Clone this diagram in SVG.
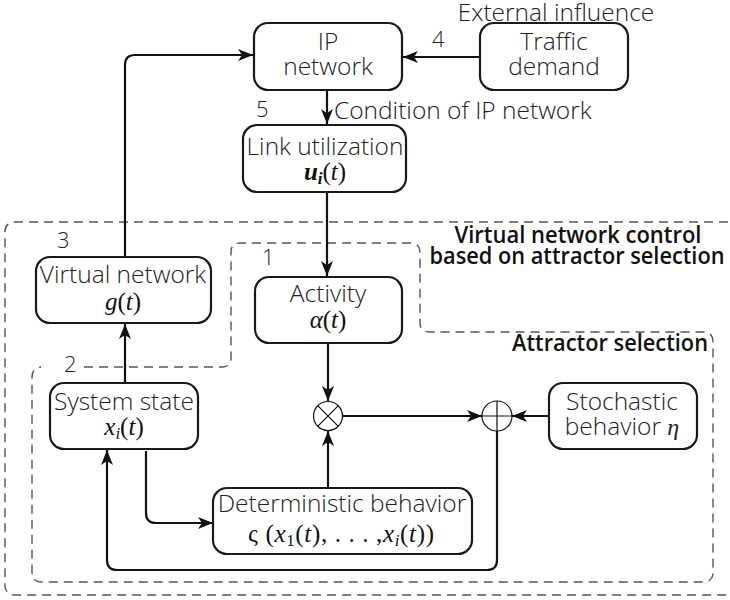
<svg xmlns="http://www.w3.org/2000/svg" width="730" height="600" viewBox="0 0 730 600">
<defs>
<marker id="ah" markerUnits="userSpaceOnUse" markerWidth="16" markerHeight="12" refX="15" refY="6" orient="auto">
<path d="M0,0 L15,6 L0,12 L4,6 z" fill="#111"/>
</marker>
<style>
.box{fill:#fff;stroke:#1a1a1a;stroke-width:2.2}
.lbl{font-family:"Open Sans","DejaVu Sans",sans-serif;font-weight:300;font-size:24.5px;fill:#222;text-anchor:middle}
.num{font-family:"Open Sans","DejaVu Sans",sans-serif;font-weight:300;font-size:22px;fill:#222}
.math{font-family:"Liberation Serif","Times New Roman",serif;font-size:25px;fill:#111;text-anchor:middle}
.it{font-style:italic}
.bold{font-family:"Open Sans","DejaVu Sans",sans-serif;font-weight:600;font-size:23.5px;fill:#111}
.dash{fill:none;stroke:#555;stroke-width:1.4;stroke-dasharray:9,6}
.con{fill:none;stroke:#111;stroke-width:2.2}
.op{fill:#fff;stroke:#111;stroke-width:1.2}
</style>
</defs>
<g id="regions">
<rect class="dash" x="5" y="222" width="745" height="373" rx="9"/>
<path class="dash" d="M84,367 H222 Q231,367 231,358 V252 Q231,243 240,243 H410 Q420,243 420,253 V323 Q420,332 430,332 H703 Q713,332 713,342 V572 Q713,582 703,582 H42 Q32,582 32,572 V377 Q32,368 41,367"/>
<text class="bold" x="578" y="243" text-anchor="middle" textLength="247" lengthAdjust="spacingAndGlyphs">Virtual network control</text>
<text class="bold" x="577" y="264" text-anchor="middle" textLength="295" lengthAdjust="spacingAndGlyphs">based on attractor selection</text>
<text class="bold" x="708" y="351" text-anchor="end" textLength="196" lengthAdjust="spacingAndGlyphs">Attractor selection</text>
</g>
<g id="connectors">
<path class="con" marker-end="url(#ah)" d="M125,256 V65 Q125,55 135,55 H253"/>
<path class="con" marker-end="url(#ah)" d="M480,57 H403"/>
<path class="con" marker-end="url(#ah)" d="M327,90 V124"/>
<path class="con" marker-end="url(#ah)" d="M327,192 V276"/>
<path class="con" marker-end="url(#ah)" d="M328,343 V401"/>
<path class="con" marker-end="url(#ah)" d="M342,416 H482"/>
<path class="con" marker-end="url(#ah)" d="M549,416 H512"/>
<path class="con" marker-end="url(#ah)" d="M328,488 V431"/>
<path class="con" marker-end="url(#ah)" d="M125,383 V324"/>
<path class="con" marker-end="url(#ah)" d="M146,451 V513 Q146,523 156,523 H213"/>
<path class="con" marker-end="url(#ah)" d="M497,431 V560 Q497,570 487,570 H117 Q107,570 107,560 V450"/>
</g>
<g id="ip-network">
<rect class="box" x="254" y="23" width="148" height="67" rx="14"/>
<text class="lbl" x="328" y="50">IP</text>
<text class="lbl" x="328" y="75">network</text>
</g>
<g id="traffic-demand">
<rect class="box" x="480" y="23" width="148" height="67" rx="14"/>
<text class="lbl" x="554" y="50">Traffic</text>
<text class="lbl" x="554" y="75">demand</text>
<text class="lbl" x="556" y="21">External influence</text>
<text class="num" x="432" y="47">4</text>
</g>
<g id="link-utilization">
<rect class="box" x="243" y="125" width="163" height="67" rx="14"/>
<text class="lbl" x="325" y="155">Link utilization</text>
<text class="math" x="325" y="180"><tspan class="it" font-weight="bold">u</tspan><tspan class="it" font-size="17" dy="4" font-weight="bold">i</tspan><tspan dy="-4">(</tspan><tspan class="it">t</tspan>)</text>
<text class="num" x="256" y="117">5</text>
<text class="lbl" x="334" y="119" style="text-anchor:start">Condition of IP network</text>
</g>
<g id="virtual-network">
<rect class="box" x="36" y="257" width="175" height="66" rx="14"/>
<text class="lbl" x="123" y="283">Virtual network</text>
<text class="math" x="123" y="310"><tspan class="it">g</tspan>(<tspan class="it">t</tspan>)</text>
<text class="num" x="57" y="248">3</text>
</g>
<g id="activity">
<rect class="box" x="255" y="277" width="147" height="66" rx="14"/>
<text class="lbl" x="328" y="302">Activity</text>
<text class="math" x="328" y="328"><tspan class="it">α</tspan>(<tspan class="it">t</tspan>)</text>
<text class="num" x="262" y="265">1</text>
</g>
<g id="system-state">
<rect class="box" x="50" y="383" width="148" height="66" rx="14"/>
<text class="lbl" x="124" y="410">System state</text>
<text class="math" x="124" y="435"><tspan class="it">x</tspan><tspan class="it" font-size="17" dy="4">i</tspan><tspan dy="-4">(</tspan><tspan class="it">t</tspan>)</text>
<text class="num" x="64" y="372">2</text>
</g>
<g id="deterministic-behavior">
<rect class="box" x="213" y="488" width="259" height="66" rx="14"/>
<text class="lbl" x="342" y="512">Deterministic behavior</text>
<text class="math" x="341" y="542" textLength="186" lengthAdjust="spacing">ς (<tspan class="it">x</tspan><tspan font-size="17" dy="4">1</tspan><tspan dy="-4">(</tspan><tspan class="it">t</tspan>), . . . ,<tspan class="it">x</tspan><tspan class="it" font-size="17" dy="4">i</tspan><tspan dy="-4">(</tspan><tspan class="it">t</tspan>))</text>
</g>
<g id="stochastic-behavior">
<rect class="box" x="549" y="383" width="148" height="66" rx="14"/>
<text class="lbl" x="622" y="410">Stochastic</text>
<text class="lbl" x="622" y="435">behavior <tspan class="it" font-family="Liberation Serif, serif" font-size="24">η</tspan></text>
</g>
<g id="multiply">
<circle class="op" cx="328" cy="416" r="14.5"/>
<path class="op" d="M317.7,405.7 L338.3,426.3 M338.3,405.7 L317.7,426.3"/>
</g>
<g id="add">
<circle class="op" cx="497" cy="416" r="15"/>
<path class="op" d="M482,416 H512 M497,401 V431"/>
</g>
</svg>
